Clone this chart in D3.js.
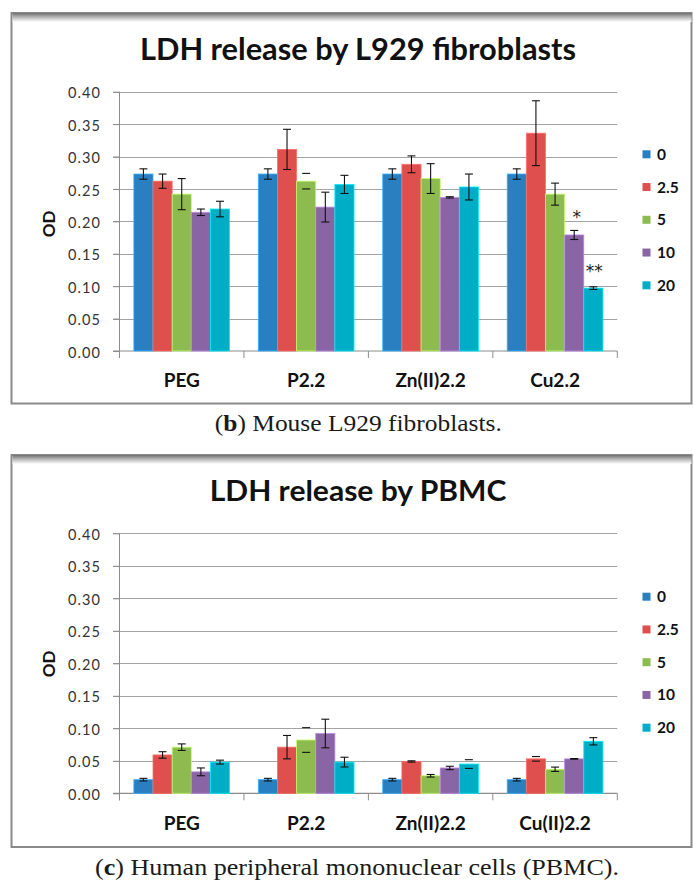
<!DOCTYPE html>
<html>
<head>
<meta charset="utf-8">
<script src="https://cdn.jsdelivr.net/npm/d3@7/dist/d3.min.js"></script>
<style>
  html, body { margin: 0; padding: 0; background: #fff; }
  svg { display: block; }
</style>
</head>
<body>
<svg id="fig" width="694" height="881"></svg>
<script>
// Concentrations (legend series) and their bar colours
const concentrations = ["0", "2.5", "5", "10", "20"];
const seriesColors = ["#2a7fc1", "#de4f4d", "#8ebb4f", "#8a65a6", "#00adc7"];

// Shared y-axis ticks (OD)
const odTicks = [0, 0.05, 0.10, 0.15, 0.20, 0.25, 0.30, 0.35, 0.40];

// Panel (b): L929 fibroblasts
const l929Groups = ["PEG", "P2.2", "Zn(II)2.2", "Cu2.2"];
const l929Mean = [
  [0.273, 0.262, 0.242, 0.214, 0.219],
  [0.273, 0.311, 0.262, 0.222, 0.257],
  [0.273, 0.288, 0.266, 0.237, 0.253],
  [0.273, 0.336, 0.242, 0.179, 0.097]
];
const l929Err = [
  [0.008, 0.011, 0.024, 0.005, 0.012],
  [0.008, 0.031, 0.012, 0.023, 0.014],
  [0.008, 0.013, 0.023, 0.001, 0.020],
  [0.008, 0.050, 0.017, 0.007, 0.002]
];
// error bars drawn with caps only: [group index, series index]
const l929CapsOnly = [[1, 2]];
// significance marks: [group index, series index, text]
const l929Marks = [[3, 3, "*"], [3, 4, "**"]];

// Panel (c): PBMC
const pbmcGroups = ["PEG", "P2.2", "Zn(II)2.2", "Cu(II)2.2"];
const pbmcMean = [
  [0.021, 0.059, 0.071, 0.033, 0.048],
  [0.021, 0.071, 0.082, 0.092, 0.048],
  [0.021, 0.049, 0.027, 0.039, 0.045],
  [0.021, 0.053, 0.037, 0.053, 0.080]
];
const pbmcErr = [
  [0.002, 0.005, 0.005, 0.006, 0.003],
  [0.002, 0.018, 0.019, 0.022, 0.0075],
  [0.002, 0.001, 0.002, 0.0026, 0.0067],
  [0.002, 0.0035, 0.0033, 0.0005, 0.0056]
];
const pbmcCapsOnly = [[1, 2], [2, 4], [3, 1]];
const pbmcMarks = [];

const svg = d3.select("#fig");

// soft shadow along the top of each chart frame
const defs = svg.append("defs");
const grad = defs.append("linearGradient").attr("id", "topShade")
  .attr("x1", 0).attr("y1", 0).attr("x2", 0).attr("y2", 1);
grad.append("stop").attr("offset", 0).attr("stop-color", "#6e6e6e");
grad.append("stop").attr("offset", 0.45).attr("stop-color", "#b5b5b5");
grad.append("stop").attr("offset", 1).attr("stop-color", "#ffffff");

function drawPanel(cfg) {
  const g = svg.append("g");

  // frame
  g.append("rect")
    .attr("x", 11.5).attr("y", cfg.frameTop)
    .attr("width", 680).attr("height", cfg.frameBottom - cfg.frameTop)
    .attr("fill", "#fff").attr("stroke", "#8a8a8a").attr("stroke-width", 2);
  g.append("rect")
    .attr("x", 12.5).attr("y", cfg.frameTop)
    .attr("width", 679).attr("height", 9)
    .attr("fill", "url(#topShade)");

  const x = d3.scaleBand().domain(cfg.groups).range([119.5, 617.3]).paddingInner(0).paddingOuter(0);
  const xs = d3.scaleBand().domain(concentrations).range([0, x.bandwidth()]).paddingInner(0).paddingOuter(0.75);
  const y = d3.scaleLinear().domain([0, 0.4]).range([cfg.zeroY, cfg.topY]);

  // title
  g.append("text")
    .attr("x", 358).attr("y", cfg.titleY)
    .attr("text-anchor", "middle")
    .attr("font-family", "Lato, sans-serif").attr("font-weight", 700)
    .attr("font-size", cfg.titleSize)
    .attr("textLength", cfg.titleWidth).attr("lengthAdjust", "spacingAndGlyphs")
    .attr("fill", "#111")
    .text(cfg.title);

  // horizontal gridlines
  g.append("g").selectAll("line")
    .data(odTicks.filter(t => t > 0))
    .join("line")
    .attr("x1", 113).attr("x2", 617.3)
    .attr("y1", d => Math.round(y(d)) + 0.5).attr("y2", d => Math.round(y(d)) + 0.5)
    .attr("stroke", "#a3a3a3").attr("stroke-width", 1.2);

  // y axis labels with outward ticks
  const yAxis = d3.axisLeft(y).tickValues(odTicks).tickFormat(d3.format(".2f"))
    .tickSizeInner(6.5).tickSizeOuter(0).tickPadding(12);
  const ya = g.append("g").attr("transform", "translate(119.5,0)").call(yAxis);
  ya.select(".domain").remove();
  ya.selectAll(".tick line").attr("stroke", "#8c8c8c");
  ya.selectAll(".tick text")
    .attr("font-family", "Lato, sans-serif").attr("font-size", 14.5)
    .attr("letter-spacing", 1.1)
    .attr("fill", "#333").attr("dy", "0.42em");

  // axis lines
  g.append("line").attr("x1", 119.5).attr("x2", 119.5)
    .attr("y1", cfg.topY).attr("y2", cfg.zeroY + 7)
    .attr("stroke", "#8c8c8c").attr("stroke-width", 1);
  g.append("line").attr("x1", 113).attr("x2", 617.3)
    .attr("y1", cfg.zeroY).attr("y2", cfg.zeroY)
    .attr("stroke", "#8c8c8c").attr("stroke-width", 1.2);

  // category boundary ticks
  const bounds = cfg.groups.map(d => x(d)).concat([x.range()[1]]);
  g.append("g").selectAll("line").data(bounds).join("line")
    .attr("x1", d => d).attr("x2", d => d)
    .attr("y1", cfg.zeroY).attr("y2", cfg.zeroY + 7)
    .attr("stroke", "#8c8c8c").attr("stroke-width", 1);

  // category labels
  const xAxis = d3.axisBottom(x).tickSize(0).tickPadding(0);
  const xa = g.append("g").attr("transform", `translate(0,${cfg.catY})`).call(xAxis);
  xa.select(".domain").remove();
  xa.selectAll(".tick text")
    .attr("y", 0).attr("dy", 0)
    .attr("font-family", "Lato, sans-serif").attr("font-weight", 700)
    .attr("font-size", 19).attr("fill", "#111");

  // bars
  const capsOnly = new Set(cfg.capsOnly.map(([gi, si]) => gi + ":" + si));
  const rows = [];
  cfg.groups.forEach((grp, gi) => {
    concentrations.forEach((c, si) => {
      rows.push({ grp, c, gi, si, v: cfg.means[gi][si], e: cfg.errs[gi][si] });
    });
  });
  const barG = g.append("g");
  barG.selectAll("rect").data(rows).join("rect")
    .attr("x", d => x(d.grp) + xs(d.c))
    .attr("y", d => y(d.v))
    .attr("width", xs.bandwidth())
    .attr("height", d => y(0) - y(d.v))
    .attr("fill", d => seriesColors[d.si])
    .attr("stroke", d => d3.color(seriesColors[d.si]).brighter(0.9))
    .attr("stroke-width", 0.8);

  // error bars
  const errG = g.append("g").attr("stroke", "#111").attr("stroke-width", 1.1);
  rows.forEach(d => {
    const cx = x(d.grp) + xs(d.c) + xs.bandwidth() / 2;
    const y1 = y(d.v + d.e), y2 = y(d.v - d.e);
    if (!capsOnly.has(d.gi + ":" + d.si)) {
      errG.append("line").attr("x1", cx).attr("x2", cx).attr("y1", y1).attr("y2", y2);
    }
    errG.append("line").attr("x1", cx - 4).attr("x2", cx + 4).attr("y1", y1).attr("y2", y1);
    errG.append("line").attr("x1", cx - 4).attr("x2", cx + 4).attr("y1", y2).attr("y2", y2);
  });

  // significance marks
  cfg.marks.forEach(([gi, si, txt]) => {
    const grp = cfg.groups[gi], c = concentrations[si];
    const cx = x(grp) + xs(c) + xs.bandwidth() / 2 + (txt.length === 1 ? 2.5 : 1);
    const top = y(cfg.means[gi][si] + cfg.errs[gi][si]);
    g.append("text")
      .attr("x", cx).attr("y", top - (txt.length === 1 ? 7 : 10))
      .attr("text-anchor", "middle")
      .attr("font-family", "'DejaVu Sans', sans-serif").attr("font-size", 17)
      .attr("fill", "#222")
      .text(txt);
  });

  // y-axis title
  g.append("text")
    .attr("transform", `translate(55,${cfg.odY}) rotate(-90)`)
    .attr("text-anchor", "middle")
    .attr("font-family", "Lato, sans-serif").attr("font-weight", 700)
    .attr("font-size", 17).attr("fill", "#111")
    .text("OD");

  // legend
  const leg = g.append("g").selectAll("g").data(concentrations).join("g")
    .attr("transform", (d, i) => `translate(642.5,${cfg.legendY + i * 32.75})`);
  leg.append("rect").attr("x", 0).attr("y", -4).attr("width", 8).attr("height", 8)
    .attr("fill", (d, i) => seriesColors[i]);
  leg.append("text").attr("x", 14.5).attr("y", 5.5)
    .attr("font-family", "Lato, sans-serif").attr("font-weight", 700)
    .attr("font-size", 15.5).attr("fill", "#111")
    .text(d => d);

  // caption below the frame
  const cap = svg.append("text")
    .attr("x", cfg.captionX).attr("y", cfg.captionY)
    .attr("text-anchor", "middle")
    .attr("font-family", "'Liberation Serif', serif").attr("font-size", 24)
    .attr("fill", "#1a1a1a")
    .attr("textLength", cfg.captionWidth).attr("lengthAdjust", "spacingAndGlyphs");
  cap.append("tspan").text("(");
  cap.append("tspan").attr("font-weight", 700).text(cfg.captionLetter);
  cap.append("tspan").text(") " + cfg.captionText);
}

drawPanel({
  groups: l929Groups, means: l929Mean, errs: l929Err, marks: l929Marks, capsOnly: l929CapsOnly,
  frameTop: 13, frameBottom: 403.5,
  title: "LDH release by L929 fibroblasts", titleY: 59.5, titleSize: 30.5, titleWidth: 436,
  topY: 91.7, zeroY: 351, catY: 386.7, odY: 224, legendY: 154.3,
  captionLetter: "b", captionText: "Mouse L929 fibroblasts.",
  captionX: 358.3, captionY: 431, captionWidth: 287
});

drawPanel({
  groups: pbmcGroups, means: pbmcMean, errs: pbmcErr, marks: pbmcMarks, capsOnly: pbmcCapsOnly,
  frameTop: 455, frameBottom: 847,
  title: "LDH release by PBMC", titleY: 500.7, titleSize: 29, titleWidth: 296.5,
  topY: 533.3, zeroY: 793.3, catY: 830, odY: 664, legendY: 596.7,
  captionLetter: "c", captionText: "Human peripheral mononuclear cells (PBMC).",
  captionX: 357, captionY: 875, captionWidth: 524
});
</script>
</body>
</html>
